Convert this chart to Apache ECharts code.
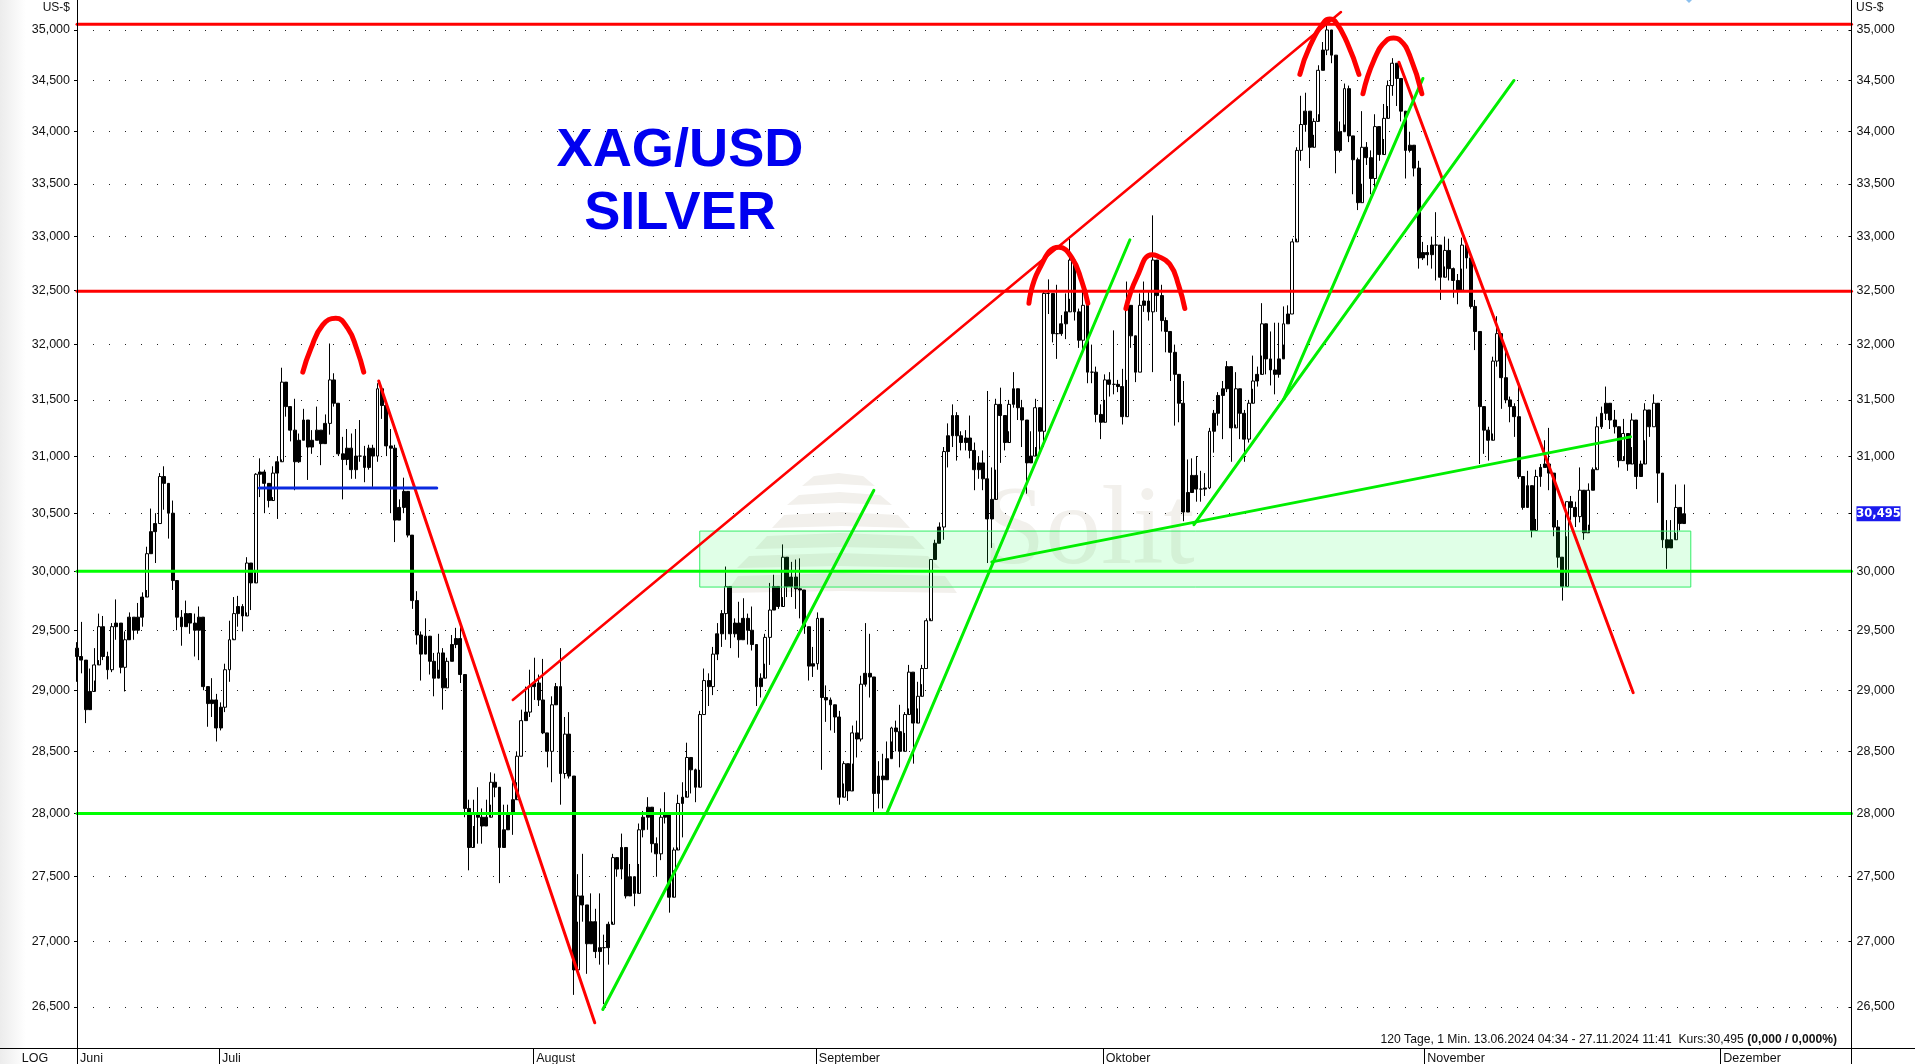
<!DOCTYPE html>
<html><head><meta charset="utf-8"><style>html,body{margin:0;padding:0;background:#fff}#c{width:1915px;height:1064px}</style>
<script src="https://cdn.jsdelivr.net/npm/echarts@6/dist/echarts.min.js"></script></head><body><div id="c"></div>
<script>
const yTicks=[26.5,27,27.5,28,28.5,29,29.5,30,30.5,31,31.5,32,32.5,33,33.5,34,34.5,35];
const lastPrice=30.495;
const monthNames=['Juni','Juli','August','September','Oktober','November','Dezember'];
const monthDays=[0,10.6,34.07,55.17,76.6,100.6,122.7];
const highs=[
29.40,29.57,29.08,29.18,29.35,29.64,29.62,29.32,29.56,29.76,29.47,29.49,29.65,29.61,29.73,29.82,30.21,30.54,30.50,30.85,30.91,30.70,30.61,29.84,29.67,29.75,29.64,29.64,29.70,29.47,29.00,29.10,28.97,28.90,29.22,29.58,29.78,29.79,29.72,30.12,29.91,30.85,30.98,30.88,30.73,30.91,31.00,31.79,31.66,31.41,31.51,31.20,31.42,31.26,31.23,31.44,31.23,31.37,32.01,31.74,31.47,31.17,
31.24,31.20,31.24,31.32,31.09,31.10,31.10,31.65,31.60,31.28,31.24,31.10,30.62,30.81,30.62,30.27,29.83,29.49,29.60,29.35,29.31,29.47,29.35,29.27,29.46,29.52,29.57,29.04,28.11,28.11,28.21,28.04,28.11,28.33,28.32,28.18,28.07,28.07,28.25,28.50,28.84,29.03,29.17,29.27,29.13,29.26,28.65,28.95,29.06,29.35,28.78,28.82,28.28,27.52,27.68,27.28,27.37,27.25,27.37,27.05,27.15,27.68,
27.64,27.84,27.69,27.60,27.45,27.92,28.02,28.13,27.89,27.81,28.04,28.17,28.00,27.73,28.15,28.25,28.57,28.45,28.36,28.83,29.18,29.14,29.36,29.56,29.67,30.04,29.64,29.60,29.74,29.77,29.64,29.70,29.33,29.14,29.47,29.90,29.97,29.87,30.23,30.04,30.08,30.10,30.11,29.84,29.53,29.36,29.65,29.60,29.04,28.94,28.87,28.83,28.42,28.40,28.71,28.75,29.12,29.56,29.47,28.83,28.42,28.48,
28.58,28.70,28.75,28.88,28.82,29.21,29.15,29.07,29.21,29.60,30.10,30.27,30.42,31.08,31.29,31.46,31.39,31.22,31.23,31.36,31.12,31.00,31.05,31.58,30.90,31.51,31.61,31.36,31.50,31.75,31.53,31.50,31.32,31.22,31.51,31.32,32.50,32.60,32.33,32.55,32.27,32.47,33.00,32.47,32.33,32.58,32.10,32.00,31.80,31.46,31.73,31.75,32.13,31.68,31.78,32.58,32.15,32.00,32.47,32.58,32.50,33.20,
32.60,32.55,32.25,32.10,32.00,31.70,31.67,30.97,30.98,31.00,30.87,30.85,31.25,31.41,31.57,31.67,31.85,31.73,31.75,31.50,31.41,31.50,31.90,31.80,32.38,32.04,32.12,32.20,32.20,32.35,32.36,32.98,33.85,34.35,34.38,34.20,34.13,34.65,34.88,35.05,35.00,34.75,34.10,34.47,34.45,33.96,33.75,34.20,33.90,33.82,34.17,34.00,34.27,34.50,34.72,34.67,34.45,34.20,34.00,33.82,33.72,32.95,
32.92,33.00,33.23,32.90,33.00,32.98,32.71,32.65,32.99,32.87,32.59,32.41,32.12,31.38,31.26,31.89,32.26,31.98,31.94,31.53,31.47,31.63,30.82,30.87,30.62,30.88,30.93,31.14,31.25,30.76,30.44,30.05,30.60,30.65,30.60,30.90,30.47,30.76,30.90,31.35,31.44,31.62,31.41,31.41,31.20,31.33,31.14,31.38,31.17,30.96,31.47,31.41,31.55,31.20,30.85,30.44,30.44,30.75,30.55,30.75];
const lows=[
29.07,29.14,28.73,28.97,29.08,29.25,29.25,29.09,29.15,29.42,29.14,28.99,29.47,29.42,29.47,29.53,29.84,30.15,30.07,30.41,30.53,30.28,29.84,29.50,29.37,29.53,29.47,29.28,29.25,29.00,28.70,28.78,28.58,28.67,28.82,29.07,29.43,29.53,29.49,29.65,29.67,30.01,30.64,30.50,30.55,30.64,30.45,30.97,31.35,31.13,30.70,30.94,31.14,30.79,31.02,31.14,30.92,31.14,31.19,31.44,31.00,30.62,
30.92,30.80,30.80,30.95,30.77,30.88,30.73,30.95,31.33,31.00,30.50,30.25,30.46,30.50,30.29,29.68,29.38,29.08,29.33,29.13,28.95,29.17,28.84,29.10,29.24,29.35,29.06,27.97,27.55,27.90,27.76,27.76,27.92,28.07,28.13,27.45,27.76,27.93,27.83,28.25,28.46,28.75,28.78,28.92,28.87,28.64,28.37,28.25,28.94,28.07,28.28,28.28,26.59,27.15,27.15,26.75,26.98,26.87,26.82,26.52,26.82,27.15,
27.50,27.48,27.33,27.43,27.27,27.60,27.81,27.87,27.69,27.50,27.63,27.92,27.22,27.55,27.73,27.81,28.18,28.16,28.09,28.35,28.80,28.87,28.96,29.25,29.36,29.42,29.35,29.44,29.27,29.42,29.38,29.33,28.87,28.94,29.22,29.21,29.67,29.68,29.78,29.78,29.78,29.68,29.60,29.47,29.08,29.11,29.17,28.35,28.74,28.67,28.65,28.07,28.24,28.10,28.40,28.45,28.58,29.03,28.94,28.01,28.04,28.04,
28.39,28.58,28.50,28.37,28.65,28.85,28.40,28.85,29.05,29.18,29.60,30.10,30.24,30.27,30.90,31.08,30.96,31.05,31.05,30.98,30.70,30.80,30.70,30.07,30.20,30.88,30.94,31.05,31.22,31.43,31.32,31.08,30.67,30.94,31.08,31.00,31.08,32.28,32.02,31.87,32.08,32.05,32.42,32.22,31.97,31.96,31.65,31.65,31.30,31.15,31.50,31.53,31.55,31.57,31.28,31.68,31.97,31.66,31.75,32.30,32.22,31.75,
32.30,32.12,31.93,31.67,31.27,31.30,30.43,30.60,30.70,30.60,30.60,30.65,30.71,31.03,31.27,31.15,31.57,30.95,31.28,31.15,30.95,31.12,31.60,31.62,31.90,31.73,31.63,31.55,31.70,32.00,32.19,32.28,32.98,33.72,34.00,33.65,33.97,34.17,34.60,34.75,34.67,33.60,33.80,34.07,33.90,33.40,33.25,33.50,33.68,33.40,33.45,33.72,33.93,34.25,34.35,34.25,34.10,33.55,33.80,33.57,32.70,32.78,
32.73,32.70,32.59,32.41,32.72,32.59,32.43,32.37,32.70,32.70,32.33,31.95,30.93,31.02,30.96,31.20,31.80,31.42,31.47,31.30,31.17,30.80,30.53,30.62,30.29,30.45,30.73,30.90,30.70,30.30,30.03,29.75,30.30,30.44,30.38,30.42,30.27,30.40,30.70,30.90,31.24,31.32,31.24,31.20,30.90,31.00,30.87,31.08,30.71,30.82,31.14,31.17,31.26,30.59,30.20,30.02,30.20,30.33,30.35,30.48];
const closes=[
29.28,29.25,28.84,28.99,29.21,29.53,29.28,29.17,29.53,29.56,29.19,29.42,29.61,29.50,29.61,29.78,30.15,30.34,30.41,30.82,30.76,30.50,29.92,29.61,29.53,29.64,29.56,29.50,29.61,29.03,28.89,28.92,28.69,28.86,29.17,29.42,29.64,29.70,29.62,30.07,29.90,30.84,30.86,30.76,30.61,30.85,30.95,31.66,31.44,31.23,30.95,31.14,31.32,31.08,31.14,31.23,31.11,31.29,31.68,31.47,31.02,30.97,
31.07,30.88,31.00,31.00,30.90,31.07,31.00,31.60,31.45,31.09,31.07,30.44,30.55,30.69,30.31,29.75,29.46,29.30,29.45,29.24,29.10,29.31,29.02,29.24,29.38,29.43,29.13,28.04,27.73,28.00,27.97,27.90,27.97,28.25,28.21,27.73,27.87,28.00,28.11,28.46,28.75,28.82,29.03,29.06,28.92,28.65,28.50,28.88,29.03,28.32,28.64,28.30,26.78,27.35,27.28,26.98,27.15,26.92,26.95,26.95,27.13,27.65,
27.56,27.73,27.35,27.50,27.37,27.87,27.97,28.05,27.76,27.68,27.97,28.00,27.34,27.71,28.08,28.13,28.45,28.35,28.21,28.80,29.08,29.03,29.30,29.47,29.64,29.87,29.47,29.56,29.42,29.60,29.50,29.38,29.03,29.10,29.44,29.67,29.87,29.70,30.12,29.87,29.95,29.85,29.84,29.53,29.20,29.22,29.60,28.94,28.92,28.88,28.78,28.13,28.40,28.18,28.65,28.60,29.05,29.14,29.11,28.16,28.30,28.27,
28.44,28.69,28.66,28.50,28.80,29.15,28.73,28.95,29.18,29.58,30.10,30.24,30.38,31.04,31.18,31.36,31.18,31.12,31.16,31.05,30.88,30.94,30.80,30.45,30.62,31.46,31.36,31.12,31.46,31.60,31.43,31.32,30.94,31.00,31.43,31.22,32.47,32.47,32.10,32.10,32.19,32.30,32.78,32.30,32.04,32.36,31.75,31.75,31.37,31.30,31.68,31.64,31.64,31.62,31.35,32.36,32.08,31.75,32.36,32.40,32.30,32.78,
32.45,32.22,32.12,31.93,31.73,31.47,30.51,30.68,30.83,30.71,30.71,30.72,31.22,31.38,31.54,31.60,31.80,31.25,31.60,31.38,31.15,31.47,31.67,31.73,32.19,31.87,31.77,31.73,31.87,32.19,32.28,32.95,33.82,34.07,34.20,33.85,34.10,34.60,34.80,35.00,34.75,33.82,34.00,34.42,33.96,33.73,33.32,33.85,33.75,33.55,34.05,33.78,34.13,34.45,34.67,34.52,34.20,33.82,33.87,33.65,32.80,32.85,
32.83,32.92,32.92,32.62,32.87,32.70,32.59,32.50,32.92,32.80,32.35,32.12,31.44,31.23,31.14,31.85,32.10,31.70,31.50,31.44,31.35,30.82,30.55,30.74,30.35,30.82,30.90,30.93,30.85,30.38,30.12,29.87,30.60,30.55,30.47,30.70,30.33,30.70,30.88,31.26,31.38,31.47,31.32,31.26,30.96,31.20,30.93,31.32,30.82,30.93,31.41,31.26,31.47,30.85,30.27,30.20,30.27,30.55,30.41,30.495];
const barDays=0.32524;
const resistance=[35.057,32.49];
const support=[30,28];
const zoneDays=[46.5,120.5];
const zonePrices=[29.865,30.345];
const redTrends=[[[22.53,31.67],[38.66,26.38]],[[98.71,34.68],[116.2,28.98]]];
const redWedge=[[32.54,28.92],[94.38,35.18]];
const blueLevel=[[13.62,30.72],[26.86,30.72]];
const greenTrends=[[[39.26,26.48],[59.5,30.70]],[[60.47,28],[78.62,32.97]],[[68.31,30.08],[116,31.17]],[[83.4,30.40],[90.12,31.51]],[[90.12,31.51],[100.5,34.52]],[[90.12,31.51],[107.3,34.5]]];
const arcs=[
[[16.86,31.75],[17.45,31.96],[18.35,32.18],[19.32,32.24],[20.21,32.15],[20.89,31.96],[21.41,31.75]],
[[71.08,32.38],[71.82,32.69],[73.32,32.90],[74.29,32.80],[75.03,32.58],[75.48,32.38]],
[[78.32,32.33],[79.14,32.62],[80.26,32.83],[80.63,32.82],[81.6,32.74],[82.27,32.54],[82.72,32.33]],
[[91.31,34.56],[92.06,34.84],[93.18,35.09],[93.55,35.11],[93.93,35.09],[94.82,34.88],[95.72,34.56]],
[[96.02,34.37],[96.84,34.70],[97.81,34.90],[98.3,34.92],[98.78,34.90],[99.53,34.74],[100.42,34.37]]];

const font='"Liberation Sans",Arial,sans-serif';
const fmt=v=>v.toFixed(3).replace('.',',');
const candles=closes.map((c,i)=>{
  const o=i?closes[i-1]:29.35;
  const item={value:[i*barDays,o,c,lows[i],highs[i]]};
  if(c>o&&c-o<0.2)item.itemStyle={color:'#000'};
  return item;
});
const lineSeries=(pts,color,width,extra)=>Object.assign({type:'line',data:pts,symbol:'none',silent:true,z:5,animation:false,lineStyle:{color,width,cap:'round'}},extra||{});
const series=[{type:'candlestick',data:candles,encode:{x:0,y:[1,2,3,4]},barWidth:3.4,z:2,silent:true,animation:false,
 itemStyle:{color:'#fff',color0:'#000',borderColor:'#000',borderColor0:'#000',borderWidth:1},
 markArea:{silent:true,z:3,itemStyle:{color:'rgba(0,255,60,0.12)',borderColor:'#33ee66',borderWidth:1},data:[[{coord:[zoneDays[0],zonePrices[1]]},{coord:[zoneDays[1],zonePrices[0]]}]]}},
 {type:'line',yAxisIndex:1,data:[],silent:true}];
resistance.forEach(p=>series.push(lineSeries([[0,p],[132.5,p]],'#ff0000',3)));
support.forEach(p=>series.push(lineSeries([[0,p],[132.5,p]],'#00ff00',3)));
redTrends.forEach(l=>series.push(lineSeries(l,'#ff0000',3)));
series.push(lineSeries(redWedge,'#ff0000',2.5));
series.push(lineSeries(blueLevel,'#0a2ae0',3));
greenTrends.forEach(l=>series.push(lineSeries(l,'#00ee00',3)));
arcs.forEach(l=>series.push(lineSeries(l,'#ff0000',5,{smooth:0.5})));

const logoLayers=[[802,875,473,486],[787,892,492,505],[772,910,512,528],[755,925,533,549],[737,940,553,568],[726,957,573,593]];
const wm='#f2f0ec';
const graphic=[
 {type:'rect',left:0,top:0,z:-5,shape:{width:26,height:1064},style:{fill:{type:'linear',x:0,y:0,x2:1,y2:0,colorStops:[{offset:0,color:'#ececec'},{offset:1,color:'#ffffff'}]}}},
 ...logoLayers.map(l=>({type:'polygon',z:-4,shape:{points:[[l[0],l[3]],[l[0]+12,l[2]+3],[(l[0]+l[1])/2,l[2]],[l[1]-12,l[2]+3],[l[1],l[3]],[(l[0]+l[1])/2,l[3]-2]]},style:{fill:wm}})),
 {type:'text',z:-4,x:983,y:590,style:{text:'Solit',font:'112px "Liberation Serif",serif',fill:wm,verticalAlign:'bottom'}},
 {type:'line',z:6,shape:{x1:0,y1:1048.5,x2:1915,y2:1048.5},style:{stroke:'#000',lineWidth:1}},
 {type:'line',z:6,shape:{x1:77.5,y1:0,x2:77.5,y2:1064},style:{stroke:'#000',lineWidth:1}},
 {type:'line',z:6,shape:{x1:1851.5,y1:0,x2:1851.5,y2:1064},style:{stroke:'#000',lineWidth:1}},
 {type:'text',z:6,x:70,y:8,style:{text:'US-$',font:'12px '+font,fill:'#111',align:'right',verticalAlign:'middle'}},
 {type:'text',z:6,x:1856,y:8,style:{text:'US-$',font:'12px '+font,fill:'#111',align:'left',verticalAlign:'middle'}},
 {type:'text',z:6,x:35,y:1059,style:{text:'LOG',font:'12.5px '+font,fill:'#111',align:'center',verticalAlign:'middle'}},
 {type:'text',z:6,x:1837,y:1039.5,style:{text:'120 Tage, 1 Min. 13.06.2024 04:34 - 27.11.2024 11:41  Kurs:30,495 {b|(0,000 / 0,000%)}',font:'12.15px '+font,fill:'#111',align:'right',verticalAlign:'middle',rich:{b:{font:'bold 12.15px '+font,fill:'#111'}}}},
 {type:'polygon',z:6,shape:{points:[[1686,0],[1692,0],[1689,3]]},style:{fill:'#8cc0ee'}}
];
const base={type:'log',min:26.187,max:35.3,axisLine:{show:true,lineStyle:{color:'#000'}}};
const option={animation:false,backgroundColor:'#fff',
 title:{text:'XAG/USD\nSILVER',left:675,top:115,textAlign:'center',textStyle:{fontFamily:font,fontSize:54.2,fontWeight:'bold',color:'#0000f0',lineHeight:63}},
 grid:{left:77,right:63.5,top:0,bottom:15.5,containLabel:false,outerBoundsMode:'none'},
 xAxis:{type:'value',min:0,max:132.5,splitLine:{show:false},axisLine:{lineStyle:{color:'#000'}},
  axisTick:{customValues:monthDays,length:16,lineStyle:{color:'#000'}},
  axisLabel:{customValues:monthDays,align:'left',margin:4,padding:[0,0,0,3],fontFamily:font,fontSize:12.5,color:'#111',hideOverlap:false,showMinLabel:true,showMaxLabel:true,
   formatter:v=>{let k=0,b=1e9;monthDays.forEach((d,i)=>{if(Math.abs(d-v)<b){b=Math.abs(d-v);k=i}});return monthNames[k]}}},
 yAxis:[Object.assign({},base,{position:'left',
   axisTick:{customValues:yTicks,length:3,lineStyle:{color:'#000'}},
   axisLabel:{customValues:yTicks,margin:7,fontFamily:font,fontSize:12.5,color:'#111',formatter:fmt,hideOverlap:false},
   splitLine:{show:true,lineStyle:{color:'#222',type:[1,15],width:1}}}),
  Object.assign({},base,{position:'right',
   axisTick:{customValues:yTicks,inside:true,length:3,lineStyle:{color:'#000'}},
   axisLabel:{customValues:yTicks.concat([lastPrice]),margin:5,fontFamily:font,fontSize:12.5,color:'#111',hideOverlap:false,
    formatter:v=>Math.abs(v-lastPrice)<1e-4?'{p|'+fmt(v)+'}':fmt(v),
    rich:{p:{backgroundColor:'#1a1aee',color:'#fff',fontWeight:'bold',fontFamily:'"DejaVu Sans",sans-serif',fontSize:11.5,width:44,height:15,align:'center',lineHeight:15}}},
   splitLine:{show:false}})],
 series,graphic};
echarts.init(document.getElementById('c'),null,{renderer:'canvas'}).setOption(option);
</script></body></html>
